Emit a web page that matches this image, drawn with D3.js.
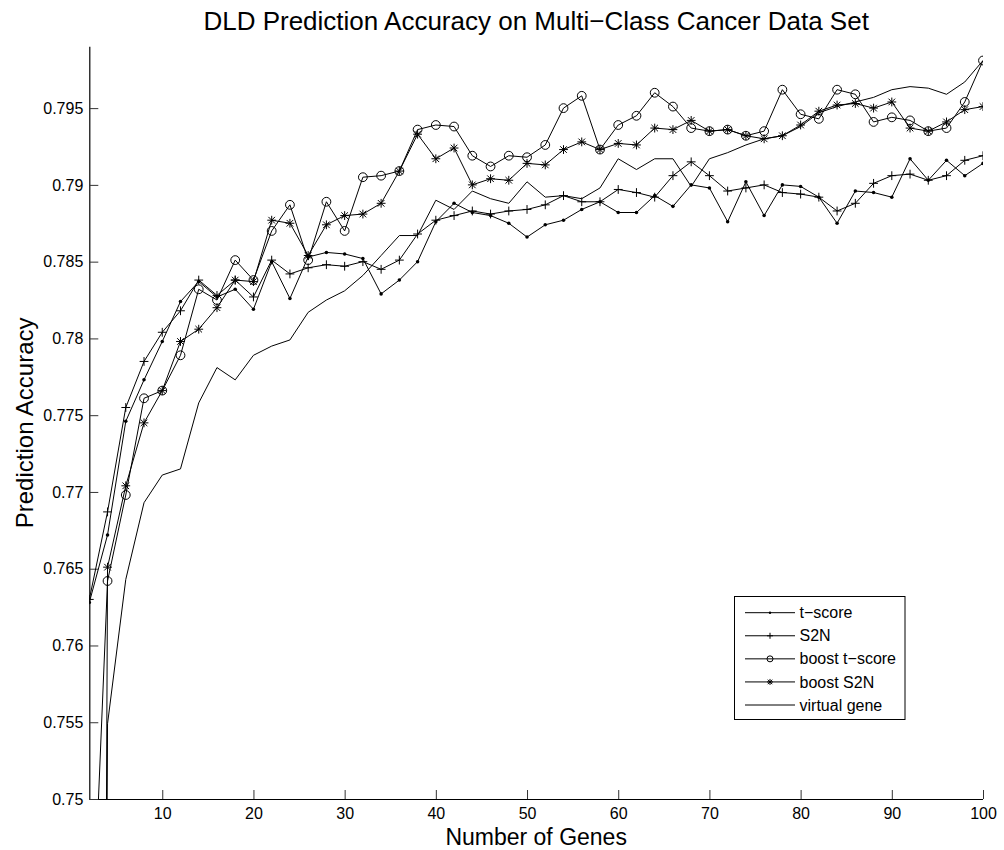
<!DOCTYPE html>
<html>
<head>
<meta charset="utf-8">
<script src="https://cdn.jsdelivr.net/npm/d3@7"></script>
<style>
  html, body { margin: 0; padding: 0; background: #fff; }
  svg { display: block; font-family: "Liberation Sans", Arial, Helvetica, sans-serif; }
</style>
</head>
<body>
<svg id="chart" width="1004" height="850"></svg>
<script>
// Number of genes used by the classifier
const genes = [2,4,6,8,10,12,14,16,18,20,22,24,26,28,30,32,34,36,38,40,
               42,44,46,48,50,52,54,56,58,60,62,64,66,68,70,72,74,76,78,80,
               82,84,86,88,90,92,94,96,98,100];

const tScore = [0.7628,0.7672,0.7746,0.7773,0.7798,0.7824,0.7837,0.7827,0.7832,0.7819,
                0.7850,0.7826,0.7853,0.7856,0.7855,0.7852,0.7829,0.7838,0.7850,0.7876,
                0.7888,0.7882,0.7880,0.7875,0.7866,0.7874,0.7877,0.7884,0.7889,0.7882,
                0.7882,0.7893,0.7886,0.7900,0.7898,0.7876,0.7902,0.7880,0.7900,0.7899,
                0.7892,0.7875,0.7896,0.7895,0.7892,0.7917,0.7903,0.7916,0.7906,0.7914];

const s2n = [0.7630,0.7687,0.7755,0.7785,0.7804,0.7818,0.7838,0.7828,0.7838,0.7827,
             0.7851,0.7842,0.7846,0.7848,0.7847,0.7850,0.7845,0.7851,0.7868,0.7877,
             0.7880,0.7883,0.7881,0.7883,0.7884,0.7887,0.7893,0.7889,0.7889,0.7897,
             0.7895,0.7892,0.7906,0.7915,0.7906,0.7896,0.7898,0.7900,0.7895,0.7894,
             0.7892,0.7883,0.7888,0.7901,0.7906,0.7907,0.7903,0.7906,0.7916,0.7919];

const boostTScore = [0.7357,0.7642,0.7698,0.7761,0.7766,0.7789,0.7832,0.7825,0.7851,0.7838,
                     0.7870,0.7887,0.7851,0.7889,0.7870,0.7905,0.7906,0.7909,0.7936,0.7939,
                     0.7938,0.7919,0.7912,0.7919,0.7918,0.7926,0.7950,0.7958,0.7923,0.7939,
                     0.7945,0.7960,0.7951,0.7937,0.7935,0.7936,0.7932,0.7935,0.7962,0.7946,
                     0.7943,0.7962,0.7959,0.7941,0.7944,0.7942,0.7935,0.7937,0.7954,0.7981];

const boostS2n = [0.5000,0.7651,0.7704,0.7745,0.7766,0.7798,0.7806,0.7820,0.7838,0.7837,
                  0.7877,0.7875,0.7854,0.7874,0.7880,0.7881,0.7888,0.7909,0.7933,0.7917,
                  0.7924,0.7900,0.7904,0.7903,0.7914,0.7913,0.7923,0.7928,0.7923,0.7927,
                  0.7926,0.7937,0.7936,0.7942,0.7935,0.7936,0.7932,0.7930,0.7932,0.7939,
                  0.7948,0.7952,0.7953,0.7950,0.7954,0.7937,0.7935,0.7941,0.7949,0.7951];

const virtualGene = [0.5000,0.7549,0.7643,0.7693,0.7711,0.7715,0.7758,0.7781,0.7773,0.7789,
                     0.7795,0.7799,0.7817,0.7825,0.7831,0.7841,0.7854,0.7867,0.7867,0.7890,
                     0.7884,0.7896,0.7891,0.7888,0.7902,0.7892,0.7893,0.7891,0.7898,0.7917,
                     0.7910,0.7917,0.7917,0.7899,0.7917,0.7921,0.7926,0.7930,0.7932,0.7938,
                     0.7947,0.7951,0.7954,0.7957,0.7962,0.7964,0.7963,0.7959,0.7967,0.7981];

const seriesNames = ["t\u2212score", "S2N", "boost t\u2212score", "boost S2N", "virtual gene"];
const markerTypes = ["dot", "plus", "circle", "star", "none"];
const seriesValues = [tScore, s2n, boostTScore, boostS2n, virtualGene];

const xTicks = [10,20,30,40,50,60,70,80,90,100];
const yTicks = [0.75,0.755,0.76,0.765,0.77,0.775,0.78,0.785,0.79,0.795];

const titleText = "DLD Prediction Accuracy on Multi\u2212Class Cancer Data Set";
const xLabel = "Number of Genes";
const yLabel = "Prediction Accuracy";

// ---- layout ----
const svg = d3.select("#chart");
const plotLeft = 89.3, plotRight = 983, plotTop = 46.7, plotBottom = 799;

const x = d3.scaleLinear().domain([2, 100]).range([plotLeft, plotRight]);
const y = d3.scaleLinear().domain([0.75, 0.799]).range([plotBottom, plotTop]);

svg.append("rect").attr("width", 1004).attr("height", 850).attr("fill", "#fff");

svg.append("defs").append("clipPath").attr("id", "plotClip")
  .append("rect").attr("x", plotLeft).attr("y", plotTop)
  .attr("width", plotRight - plotLeft).attr("height", plotBottom - plotTop);

// ---- axes ----
const fmt = v => String(+v.toFixed(3));

const xAxis = d3.axisBottom(x).tickValues(xTicks).tickSize(-9).tickPadding(9)
  .tickFormat(d => String(d));
const gx = svg.append("g").attr("transform", `translate(0,${plotBottom})`).call(xAxis);

const yAxis = d3.axisLeft(y).tickValues(yTicks).tickSize(-9).tickPadding(6)
  .tickFormat(fmt);
const gy = svg.append("g").attr("transform", `translate(${plotLeft},0)`).call(yAxis);

[gx, gy].forEach(g => {
  g.select(".domain").attr("stroke", "#000").attr("stroke-width", 1.2);
  g.selectAll(".tick line").attr("stroke", "#333").attr("stroke-width", 1);
  g.selectAll(".tick text").attr("fill", "#000").attr("font-size", 16)
    .attr("font-family", "Liberation Sans, Arial, Helvetica, sans-serif");
});
// axis lines drawn without outer end ticks
gx.select(".domain").attr("d", `M${plotLeft},0.5H${plotRight}`);
gy.select(".domain").attr("d", `M0.5,${plotBottom}V${plotTop}`);

// ---- series ----
const line = d3.line().x((d, i) => x(genes[i])).y(d => y(d));
const plot = svg.append("g").attr("clip-path", "url(#plotClip)");

function drawMarker(g, type, cx, cy, s) {
  if (type === "dot") {
    g.append("circle").attr("cx", cx).attr("cy", cy).attr("r", s * 0.4).attr("fill", "#000");
  } else if (type === "plus") {
    g.append("path").attr("d", `M${cx - s},${cy}H${cx + s}M${cx},${cy - s}V${cy + s}`)
      .attr("stroke", "#000").attr("stroke-width", 1).attr("fill", "none");
  } else if (type === "circle") {
    g.append("circle").attr("cx", cx).attr("cy", cy).attr("r", s)
      .attr("stroke", "#000").attr("stroke-width", 1).attr("fill", "none");
  } else if (type === "star") {
    const d = s * 0.75;
    g.append("path")
      .attr("d", `M${cx - s},${cy}H${cx + s}M${cx},${cy - s}V${cy + s}` +
                 `M${cx - d},${cy - d}L${cx + d},${cy + d}M${cx - d},${cy + d}L${cx + d},${cy - d}`)
      .attr("stroke", "#000").attr("stroke-width", 1).attr("fill", "none");
  }
}

seriesValues.forEach((vals, k) => {
  plot.append("path").datum(vals).attr("d", line)
    .attr("fill", "none").attr("stroke", "#000").attr("stroke-width", 1)
    .attr("stroke-linejoin", "miter");
  const mg = plot.append("g");
  vals.forEach((v, i) => {
    if (v >= 0.75) drawMarker(mg, markerTypes[k], x(genes[i]), y(v), 4.4);
  });
});

// ---- labels ----
svg.append("text").attr("x", (plotLeft + plotRight) / 2).attr("y", 30)
  .attr("text-anchor", "middle").attr("font-size", 26).attr("fill", "#000")
  .text(titleText);

svg.append("text").attr("x", (plotLeft + plotRight) / 2).attr("y", 845)
  .attr("text-anchor", "middle").attr("font-size", 23).attr("fill", "#000")
  .text(xLabel);

svg.append("text")
  .attr("transform", `translate(33,${(plotTop + plotBottom) / 2}) rotate(-90)`)
  .attr("text-anchor", "middle").attr("font-size", 24).attr("fill", "#000")
  .text(yLabel);

// ---- legend ----
const lg = svg.append("g");
lg.append("rect").attr("x", 734.5).attr("y", 596.5).attr("width", 170.5).attr("height", 123)
  .attr("fill", "#fff").attr("stroke", "#000").attr("stroke-width", 1);
const rowY = d3.scalePoint().domain(seriesNames).range([612.7, 705]);
seriesNames.forEach((name, k) => {
  const ry = rowY(name);
  lg.append("line").attr("x1", 745).attr("x2", 795).attr("y1", ry).attr("y2", ry)
    .attr("stroke", "#000").attr("stroke-width", 1);
  drawMarker(lg, markerTypes[k], 770, ry, 3);
  lg.append("text").attr("x", 799.5).attr("y", ry).attr("dy", "0.35em")
    .attr("font-size", 16).attr("fill", "#000").text(name);
});
</script>
</body>
</html>
